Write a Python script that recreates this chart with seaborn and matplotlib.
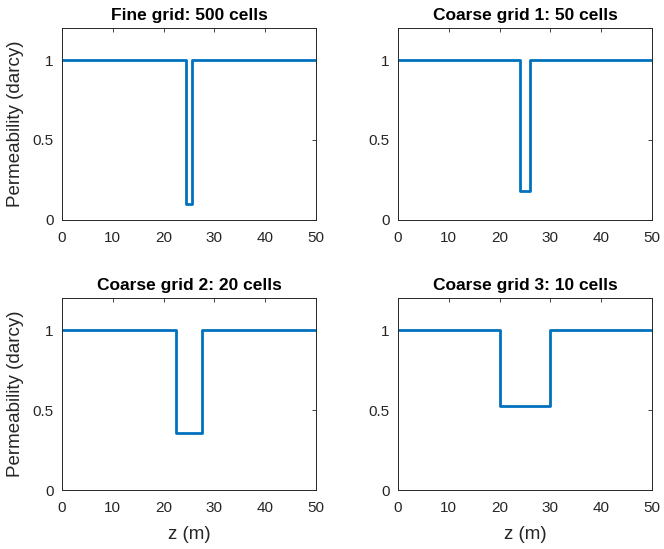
import matplotlib
matplotlib.use("Agg")
import matplotlib.pyplot as plt
import seaborn as sns
import pandas as pd

titles = ["Fine grid: 500 cells", "Coarse grid 1: 50 cells",
          "Coarse grid 2: 20 cells", "Coarse grid 3: 10 cells"]
fine_edges = [0, 24.5, 25.5, 50]
fine_vals = [1.0, 0.1, 1.0]
c1_edges = [0, 24, 26, 50]
c1_vals = [1.0, 0.18, 1.0]
c2_edges = [0, 22.5, 27.5, 50]
c2_vals = [1.0, 0.355, 1.0]
c3_edges = [0, 20, 30, 50]
c3_vals = [1.0, 0.526, 1.0]
xticks = [0, 10, 20, 30, 40, 50]
yticks = [0, 0.5, 1]
ytick_labels = ["0", "0.5", "1"]

sns.set_style("white")
plt.rcParams['font.family'] = ['Liberation Sans', 'DejaVu Sans']

fig = plt.figure(figsize=(6.64, 5.49), dpi=100)
W, H = 664, 549
boxes = [(62, 28), (398, 28), (62, 298), (398, 298)]
aw, ah = 254, 192
series = [(fine_edges, fine_vals), (c1_edges, c1_vals),
          (c2_edges, c2_vals), (c3_edges, c3_vals)]
col = "#0072BD"
grey = "#262626"
for i, ((x0, y0), (edges, vals), title) in enumerate(zip(boxes, series, titles)):
    ax = fig.add_axes([x0 / W, 1 - (y0 + ah) / H, aw / W, ah / H])
    df = pd.DataFrame({"z": edges, "k": list(vals) + [vals[-1]]})
    sns.lineplot(data=df, x="z", y="k", ax=ax, color=col, linewidth=2.0,
                 drawstyle="steps-post", sort=False)
    ax.set_xlim(0, 50)
    ax.set_ylim(0, 1.2)
    ax.set_xticks(xticks)
    ax.set_yticks(yticks)
    ax.set_yticklabels(ytick_labels)
    ax.tick_params(direction="in", top=True, right=True, length=3, width=0.6,
                   labelsize=11, colors=grey, labelcolor=grey)
    ax.tick_params(axis="x", pad=8)
    ax.tick_params(axis="y", pad=6)
    for s in ax.spines.values():
        s.set_color(grey)
        s.set_linewidth(0.7)
    ax.set_title(title, fontsize=12.5, fontweight="bold", color="black", pad=6)
    if i in (0, 2):
        ax.set_ylabel("Permeability (darcy)", fontsize=13.5, color=grey, labelpad=6)
    else:
        ax.set_ylabel("")
    if i in (2, 3):
        ax.set_xlabel("z (m)", fontsize=13.5, color=grey, labelpad=8)
    else:
        ax.set_xlabel("")

fig.savefig("out.png", dpi=100, facecolor="white")
